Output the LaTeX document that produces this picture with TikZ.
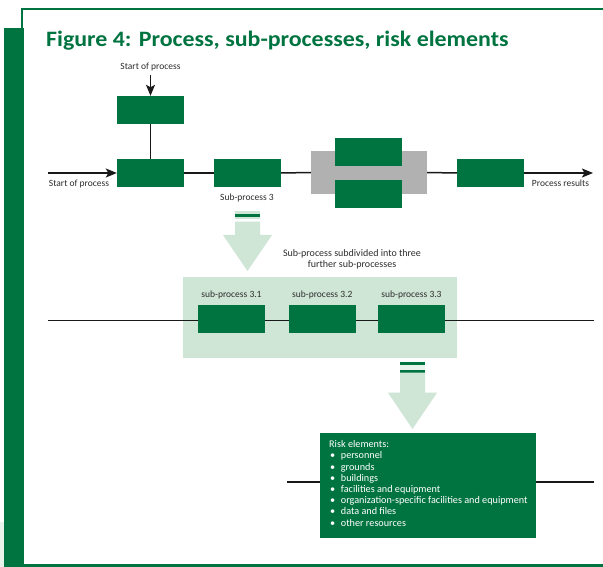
\documentclass[tikz,border=0pt]{standalone}
\usepackage{fontspec}
\setmainfont{Carlito}
\newfontfamily\titlefont[FakeStretch=1.087]{Carlito}
\usetikzlibrary{arrows.meta}
\definecolor{dkgreen}{RGB}{0,116,64}
\definecolor{ltgreen}{RGB}{207,229,214}
\definecolor{midgray}{RGB}{176,177,176}
\definecolor{txtgray}{RGB}{45,45,45}
\begin{document}
\begin{tikzpicture}[x=1pt,y=-1pt,
  box/.style={fill=dkgreen, minimum width=67pt, minimum height=28pt, inner sep=0pt},
  lbl/.style={text=txtgray, font=\fontsize{9.5}{11}\selectfont, inner sep=0pt, anchor=base},
  conn/.style={line width=1.5pt, black!90},
  arr/.style={conn, -{Stealth[length=11pt,width=9pt,inset=2.5pt]}},
  bigarrow/.style={fill=ltgreen},
]
\useasboundingbox (0,0) rectangle (603,567);
\fill[white] (0,0) rectangle (603,567);
% frame
\fill[dkgreen] (21,8) rectangle (603,10);
\fill[dkgreen] (21,8) rectangle (23,28);
\fill[dkgreen] (4,28) rectangle (24,567);
\fill[dkgreen] (24,564.3) rectangle (603,567);
\fill[ltgreen!50] (0,521.7) rectangle (4,567);
% title
\node[anchor=base west, inner sep=0pt, text=dkgreen, font=\titlefont\fontsize{22}{25}\selectfont\bfseries] (title) at (46,47) {Figure 4: Process, sub-processes, risk elements};
% top process
\node[lbl] (start1) at (150.5,70) {Start of process};
\node[box] (A) at (150.5,110) {};
\node[box] (B) at (150.5,173) {};
\node[box] (C) at (247.5,173) {};
\node[fill=midgray, minimum width=116pt, minimum height=43pt, inner sep=0pt] (G) at (369,172.5) {};
\node[box] (D1) at (368.5,152) {};
\node[box] (D2) at (368.5,194) {};
\node[box] (E) at (490.5,173) {};
\coordinate (m0) at (48,173);
\coordinate (m1) at (593,173);
\draw[arr] ([yshift=-3pt]start1.south) -- (A.north);
\draw[conn] (A.south) -- (B.north);
\draw[arr] (m0) -- (B.west);
\draw[conn] (B.east) -- (C.west);
\draw[conn] (C.east) -- (G.west);
\draw[conn] (G.east) -- (E.west);
\draw[arr] (E.east) -- (m1);
\node[lbl] (sl) at (79,187) {Start of process};
\node[lbl] (pr) at (560.5,187) {Process results};
\node[lbl] (sp3) at (247,200.7) {Sub-process 3};
% first big arrow
\fill[ltgreen] (235,211.3) rectangle (260,219.3);
\fill[dkgreen] (235,214) rectangle (260,217);
\fill[bigarrow] (235,221.7) -- (260,221.7) -- (260,235) -- (272,235) -- (247.5,271) -- (223,235) -- (235,235) -- cycle;
\node[lbl, anchor=north, align=center, font=\fontsize{10}{11}\selectfont] (subdiv) at (352,249) {Sub-process subdivided into three\\further sub-processes};
% panel
\node[fill=ltgreen, minimum width=274pt, minimum height=80.4pt, inner sep=0pt] (P) at (320,317.5) {};
\node[box] (S1) at (231.5,319) {};
\node[box] (S2) at (322.3,319) {};
\node[box] (S3) at (411.5,319) {};
\node[lbl] (s1l) at (231.5,297.7) {sub-process 3.1};
\node[lbl] (s2l) at (322.3,297.7) {sub-process 3.2};
\node[lbl] (s3l) at (411.5,297.7) {sub-process 3.3};
\coordinate (l0) at (48,320.3);
\coordinate (l1) at (594,320.3);
\draw[conn] (l0) -- (l0 -| S1.west);
\draw[conn] (l0 -| S1.east) -- (l0 -| S2.west);
\draw[conn] (l0 -| S2.east) -- (l0 -| S3.west);
\draw[conn] (l0 -| S3.east) -- (l1);
% second big arrow
\fill[dkgreen] (400,362) rectangle (425,364.7);
\fill[ltgreen!45] (400,364.7) rectangle (425,370);
\fill[dkgreen] (400,370) rectangle (425,372.7);
\fill[bigarrow] (400,372.7) -- (425,372.7) -- (425,392.7) -- (437,392.7) -- (412.5,429) -- (388,392.7) -- (400,392.7) -- cycle;
% risk box
\node[fill=dkgreen, minimum width=216pt, minimum height=104.7pt, inner sep=0pt] (R) at (428,485.35) {};
\coordinate (r0) at (287.3,482);
\coordinate (r1) at (594,482);
\draw[conn] (r0) -- (r0 -| R.west);
\draw[conn] (r1 -| R.east) -- (r1);
\node[anchor=base west, inner sep=0pt, text=white, font=\fontsize{10.2}{11.2}\selectfont] (risktext) at (329,447.7) {%
\begin{tabular}[t]{@{}p{11.7pt}@{}l@{}}
\multicolumn{2}{@{}l@{}}{Risk elements:}\\
\hspace*{1pt}\textbullet & personnel\\
\hspace*{1pt}\textbullet & grounds\\
\hspace*{1pt}\textbullet & buildings\\
\hspace*{1pt}\textbullet & facilities and equipment\\
\hspace*{1pt}\textbullet & organization-specific facilities and equipment\\
\hspace*{1pt}\textbullet & data and files\\
\hspace*{1pt}\textbullet & other resources
\end{tabular}};
\end{tikzpicture}
\end{document}
